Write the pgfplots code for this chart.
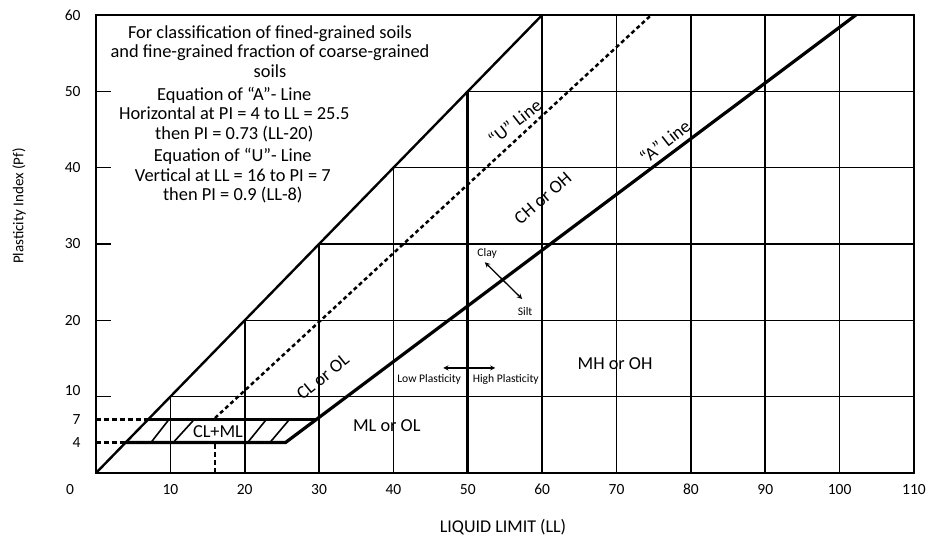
\documentclass[border=0pt]{standalone}
\usepackage{fontspec}
\setmainfont{Carlito}
\usepackage{pgfplots}
\pgfplotsset{compat=1.18}

\newcommand\fa{\fontsize{18.4bp}{19.5bp}\selectfont}
\newcommand\fb{\fontsize{18.3bp}{20bp}\selectfont}
\newcommand\ft{\fontsize{15.5bp}{18bp}\selectfont}
\newcommand\fs{\fontsize{11.6bp}{14bp}\selectfont}
\tikzset{
  gridl/.style={black, line width=1.6bp},
  thickl/.style={black, line width=3.2bp},
  dashl/.style={black, line width=2.5bp, dash pattern=on 5bp off 3bp},
}

\begin{document}
\begin{tikzpicture}
\begin{axis}[
  scale only axis, width=818bp, height=458bp,
  xmin=0, xmax=110, ymin=0, ymax=60,
  clip=false,
  axis line style={line width=2bp},
  xtick={10,20,...,110},
  xticklabels={10,20,30,40,50,60,70,80,90,100,110},
  ytick={0,4,7,10,20,30,40,50,60},
  yticklabels={,4,7,\raisebox{1bp}[0pt][0pt]{10},20,30,40,50,60},
  major tick length=0pt,
  ytick pos=left, xtick pos=bottom,
  extra y ticks={10,20,30,40,50}, extra y tick labels={},
  extra y tick style={major tick length=15bp, tick style={line width=1.6bp, black}},
  tick align=inside,
  ticklabel style={font=\ft},
  xticklabel style={yshift=-8bp, text height=9.8bp, text depth=0pt},
  yticklabel style={xshift=-12bp},
  xlabel={LIQUID LIMIT (LL)},
  ylabel={Plasticity Index (Pf)},
  xlabel style={font=\fontsize{18bp}{20bp}\selectfont, at={(rel axis cs:0.4976,-0.118)}, anchor=center},
  ylabel style={font=\fontsize{15bp}{18bp}\selectfont, at={(rel axis cs:-0.0941,0.583)}, anchor=center},
]
% vertical grid lines (stopped at the PI = LL line)
\addplot[gridl] coordinates {(10,0) (10,10)};
\addplot[gridl] coordinates {(20,0) (20,20)};
\addplot[gridl] coordinates {(30,0) (30,30)};
\addplot[gridl] coordinates {(40,0) (40,40)};
\addplot[gridl] coordinates {(60,0) (60,60)};
\addplot[gridl] coordinates {(70,0) (70,60)};
\addplot[gridl] coordinates {(80,0) (80,60)};
\addplot[gridl] coordinates {(90,0) (90,60)};
\addplot[gridl] coordinates {(100,0) (100,60)};
% horizontal grid lines
\addplot[gridl] coordinates {(10,10) (110,10)};
\addplot[gridl] coordinates {(20,20) (110,20)};
\addplot[gridl] coordinates {(30,30) (110,30)};
\addplot[gridl] coordinates {(40,40) (110,40)};
\addplot[gridl] coordinates {(50,50) (110,50)};
% LL = 50 divider
\addplot[thickl] coordinates {(50,0) (50,50)};
% PI = LL upper bound
\addplot[black, line width=2.4bp] coordinates {(0,0) (60,60)};
% A line
\addplot[thickl] coordinates {(4,4) (25.5,4) (102.19,60)};
% PI = 7 boundary of CL-ML
\addplot[black, line width=2.8bp] coordinates {(7,7) (29.6,7)};
% hatching CL-ML
\addplot[gridl] coordinates {(7.4,4) (9.8,7)};
\addplot[gridl] coordinates {(10.4,4) (13.2,7)};
\addplot[gridl] coordinates {(20.4,4) (22.9,7)};
\addplot[gridl] coordinates {(23.4,4) (26.0,7)};
% U line
\addplot[black, line width=2.5bp, dash pattern=on 4bp off 3bp] coordinates {(16,7.2) (74.67,60)};
\addplot[dashl] coordinates {(16,0) (16,4)};
\addplot[dashl] coordinates {(0,4) (4,4)};
\addplot[dashl] coordinates {(0,7) (7,7)};
% arrows
\addplot[black, line width=1.3bp, <->, >=stealth] coordinates {(52.3,27.6) (57.3,22.8)};
\addplot[black, line width=1.3bp, <->, >=stealth] coordinates {(46.7,13.76) (53.7,13.76)};

\node[font=\ft] at (axis cs:-3.5,-2.2) {0};
\node[align=center, font=\fa] at (axis cs:23.4,55.2) {For classification of fined-grained soils\\and fine-grained fraction of coarse-grained\\soils};
\node[align=center, font=\fa] at (axis cs:18.6,47.0) {Equation of “A”- Line\\Horizontal at PI = 4 to LL = 25.5\\then PI = 0.73 (LL-20)};
\node[align=center, font=\fa] at (axis cs:18.4,38.9) {Equation of “U”- Line\\Vertical at LL = 16 to PI = 7\\then PI = 0.9 (LL-8)};

\node[font=\fb] at (axis cs:16.4,5.4) {CL+ML};
\node[font=\fb] at (axis cs:39.1,6.2) {ML or OL};
\node[font=\fb] at (axis cs:69.8,14.3) {MH or OH};
\node[font=\fb, rotate=39] at (axis cs:30.5,12.6) {CL or OL};
\node[font=\fb, rotate=38] at (axis cs:56.3,46.0) {“U” Line};
\node[font=\fb, rotate=38] at (axis cs:76.5,43.4) {“A” Line};
\node[font=\fb, rotate=41] at (axis cs:60.1,36.0) {CH or OH};
\node[font=\fs] at (axis cs:52.6,28.8) {Clay};
\node[font=\fs] at (axis cs:57.7,21.2) {Silt};
\node[font=\fs] at (axis cs:44.8,12.2) {Low Plasticity};
\node[font=\fs] at (axis cs:55.1,12.2) {High Plasticity};

\path (rel axis cs:-0.11736,-0.1441) rectangle (rel axis cs:1.01956,1.03275);
\end{axis}
\end{tikzpicture}
\end{document}
